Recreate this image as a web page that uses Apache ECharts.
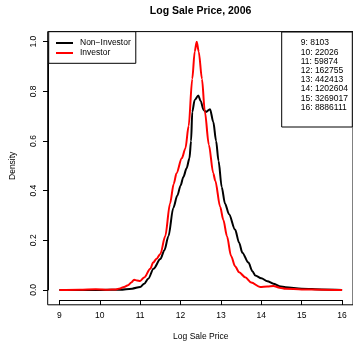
<!DOCTYPE html>
<html>
<head>
<meta charset="utf-8">
<script src="https://cdn.jsdelivr.net/npm/echarts@6/dist/echarts.min.js"></script>
<style>
html,body{margin:0;padding:0;background:#fff;}
#chart{width:353px;height:346px;}
</style>
</head>
<body>
<div id="chart"></div>
<script>
// ---- data ----
const chartTitle = 'Log Sale Price, 2006';
const xLabel = 'Log Sale Price';
const yLabel = 'Density';
const seriesNames = ['Non\u2212Investor', 'Investor'];

const nonInvX = [9.0, 9.5, 10.0, 10.5, 10.8, 11.0, 11.1, 11.2, 11.33, 11.5, 11.6, 11.7, 11.82, 11.92, 12.0, 12.07, 12.15, 12.22, 12.26, 12.29, 12.35, 12.44, 12.5, 12.57, 12.63, 12.73, 12.81, 12.88, 12.94, 13.02, 13.1, 13.2, 13.35, 13.45, 13.53, 13.68, 13.78, 13.85, 14.0, 14.15, 14.3, 14.45, 14.6, 15.0, 15.5, 16.0];
const nonInvY = [0, 0, 0, 0.001, 0.005, 0.012, 0.025, 0.045, 0.085, 0.124, 0.16, 0.216, 0.33, 0.38, 0.42, 0.455, 0.49, 0.53, 0.6, 0.717, 0.765, 0.783, 0.76, 0.725, 0.717, 0.728, 0.677, 0.60, 0.52, 0.414, 0.348, 0.305, 0.243, 0.19, 0.15, 0.11, 0.075, 0.058, 0.047, 0.035, 0.025, 0.015, 0.011, 0.005, 0.002, 0];

const invX = [9.0, 9.5, 9.9, 10.2, 10.4, 10.5, 10.6, 10.7, 10.78, 10.85, 10.92, 11.0, 11.1, 11.25, 11.32, 11.4, 11.5, 11.62, 11.74, 11.83, 11.9, 12.03, 12.12, 12.2, 12.29, 12.35, 12.4, 12.45, 12.53, 12.6, 12.7, 12.81, 12.86, 12.98, 13.06, 13.15, 13.25, 13.35, 13.45, 13.6, 13.75, 13.97, 14.15, 14.3, 14.45, 14.6, 15.0, 15.5, 16.0];
const invY = [0, 0.001, 0.003, 0.001, 0.002, 0.006, 0.012, 0.019, 0.03, 0.041, 0.038, 0.036, 0.05, 0.085, 0.11, 0.124, 0.145, 0.216, 0.348, 0.427, 0.47, 0.53, 0.57, 0.66, 0.85, 0.96, 1.0, 0.96, 0.85, 0.72, 0.585, 0.47, 0.44, 0.335, 0.282, 0.216, 0.137, 0.095, 0.071, 0.051, 0.03, 0.012, 0.014, 0.016, 0.009, 0.005, 0.002, 0.001, 0];

const priceLegend = ['9: 8103', '10: 22026', '11: 59874', '12: 162755', '13: 442413', '14: 1202604', '15: 3269017', '16: 8886111'];

const xMin = 9, xMax = 16, xStep = 1;
const yMin = 0, yMax = 1, yStep = 0.2;

// ---- chart ----
const FONT = '"Liberation Sans", Arial, Helvetica, sans-serif';
const chart = echarts.init(document.getElementById('chart'), null, {renderer: 'canvas'});

const pairs = (xs, ys) => xs.map((x, i) => [x, ys[i]]);

chart.setOption({
  animation: false,
  backgroundColor: '#fff',
  grid: [
    {left: 47.7, top: 31.6, width: 305.8, height: 273.2, show: true, borderColor: '#000', borderWidth: 1, backgroundColor: 'transparent'},
    {left: 59.1, top: 41.7, width: 283, height: 253}
  ],
  xAxis: [
    {gridIndex: 0, type: 'value', show: false, min: 0, max: 1},
    {gridIndex: 1, type: 'value', min: xMin, max: xMax, interval: xStep, position: 'bottom', offset: 10.1,
     axisLine: {show: true, onZero: false, lineStyle: {color: '#000', width: 1}},
     axisTick: {show: true, length: 5, lineStyle: {color: '#000'}},
     splitLine: {show: false},
     axisLabel: {color: '#000', fontSize: 8.5, fontFamily: FONT, margin: 11},
     name: xLabel, nameLocation: 'middle', nameGap: 32,
     nameTextStyle: {color: '#000', fontSize: 8.5, fontFamily: FONT}}
  ],
  yAxis: [
    {gridIndex: 0, type: 'value', show: false, min: 0, max: 1},
    {gridIndex: 1, type: 'value', min: yMin, max: yMax, interval: yStep, position: 'left', offset: 11.4,
     axisLine: {show: true, onZero: false, lineStyle: {color: '#000', width: 1}},
     axisTick: {show: true, length: 5, lineStyle: {color: '#000'}},
     splitLine: {show: false},
     axisLabel: {color: '#000', fontSize: 8.5, fontFamily: FONT, margin: 10, rotate: 90,
       formatter: v => v.toFixed(1)},
     name: yLabel, nameLocation: 'middle', nameGap: 31, nameRotate: 90,
     nameTextStyle: {color: '#000', fontSize: 8.5, fontFamily: FONT}}
  ],
  legend: {
    left: 48.7, top: 31.7, orient: 'vertical',
    backgroundColor: '#fff', borderColor: '#000', borderWidth: 1, borderRadius: 0,
    padding: [6.3, 5, 5.3, 7.3], itemGap: 0,
    itemWidth: 17, itemHeight: 2, icon: 'rect',
    textStyle: {color: '#000', fontSize: 8.5, fontFamily: FONT, lineHeight: 10, padding: [0, 0, 0, 2]},
    data: seriesNames
  },
  graphic: [
    {type: 'text', x: 200.6, y: 11, z: 10,
     style: {text: chartTitle, fill: '#000', font: 'bold 10.5px ' + FONT, textAlign: 'center', textVerticalAlign: 'middle'}},
    {type: 'group', x: 281.7, y: 32, z: 10, children: [
      {type: 'rect', shape: {x: 0, y: 0, width: 70.6, height: 95}, style: {fill: '#fff', stroke: '#000', lineWidth: 1}},
      {type: 'text', x: 19, y: 6.4, style: {text: priceLegend.join('\n'), fill: '#000', font: '8.5px ' + FONT, lineHeight: 9.2}}
    ]}
  ],
  series: [
    {name: seriesNames[0], type: 'line', xAxisIndex: 1, yAxisIndex: 1, data: pairs(nonInvX, nonInvY),
     showSymbol: false, smooth: 0.3, smoothMonotone: 'x', lineStyle: {color: '#000', width: 2}, itemStyle: {color: '#000'}, z: 2},
    {name: seriesNames[1], type: 'line', xAxisIndex: 1, yAxisIndex: 1, data: pairs(invX, invY),
     showSymbol: false, smooth: 0.3, smoothMonotone: 'x', lineStyle: {color: '#ff0000', width: 2}, itemStyle: {color: '#ff0000'}, z: 3}
  ]
});
</script>
</body>
</html>
